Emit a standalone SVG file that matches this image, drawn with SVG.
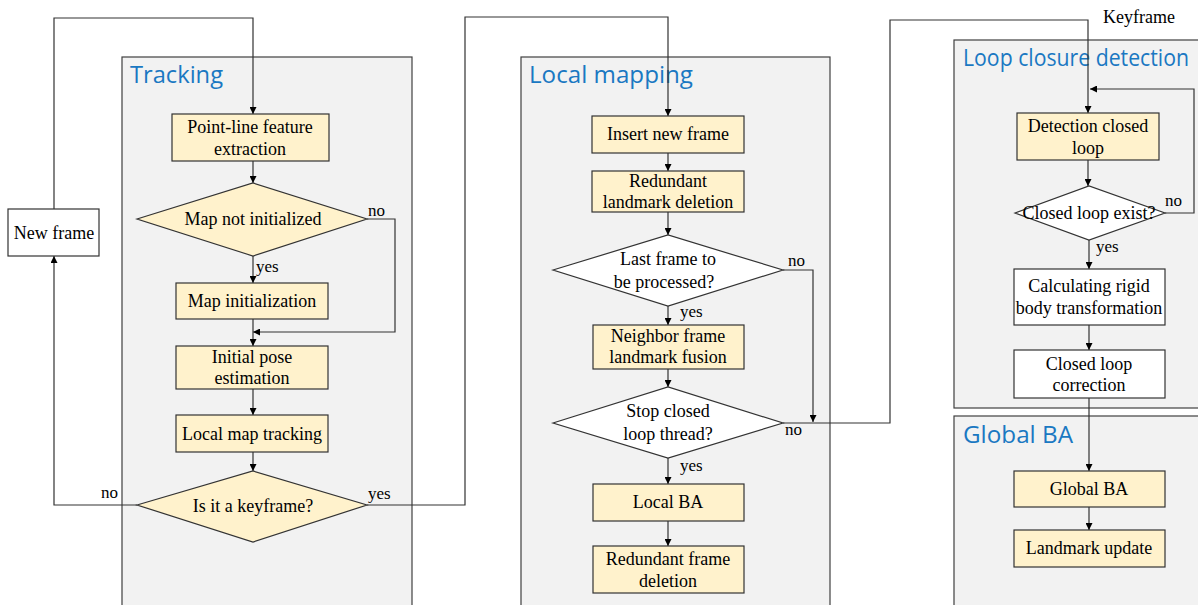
<svg xmlns="http://www.w3.org/2000/svg" width="1198" height="605" viewBox="0 0 1198 605">
<defs>
<marker id="ah" viewBox="0 0 10 10" refX="10" refY="5" markerWidth="7" markerHeight="7" markerUnits="userSpaceOnUse" orient="auto"><path d="M0,0 L10,5 L0,10 z" fill="#000"/></marker>
</defs>
<style>
.panel{fill:#f2f2f2;stroke:#404040;stroke-width:1.2}
.title{font-family:"Open Sans","Noto Sans",sans-serif;font-size:23px;fill:#1a78c2}
.box{fill:#fff2cc;stroke:#333;stroke-width:1.2}
.wbox{fill:#fff;stroke:#333;stroke-width:1.2}
.nt{font-family:"Liberation Serif","Times New Roman",serif;font-size:18px;fill:#000;text-anchor:middle}
.lb{font-family:"Liberation Serif","Times New Roman",serif;font-size:17px;fill:#000}
.c{fill:none;stroke:#333;stroke-width:1.2}
</style>
<rect width="1198" height="605" fill="#fff"/>
<g id="panels">
<rect class="panel" x="122" y="57" width="290" height="560"/>
<text class="title" x="130" y="83" textLength="93" lengthAdjust="spacingAndGlyphs">Tracking</text>
<rect class="panel" x="521" y="57" width="309" height="560"/>
<text class="title" x="529" y="83" textLength="164" lengthAdjust="spacingAndGlyphs">Local mapping</text>
<rect class="panel" x="954" y="40" width="260" height="368"/>
<text class="title" x="963" y="66" textLength="226" lengthAdjust="spacingAndGlyphs">Loop closure detection</text>
<rect class="panel" x="954" y="416" width="260" height="200"/>
<text class="title" x="963" y="443" textLength="110" lengthAdjust="spacingAndGlyphs">Global BA</text>
</g>
<g id="connectors">
<path class="c" d="M54,209 V18 H253 V114" marker-end="url(#ah)"/>
<path class="c" d="M253,161 V183" marker-end="url(#ah)"/>
<path class="c" d="M253,256 V283" marker-end="url(#ah)"/>
<path class="c" d="M367,219 H395 V332 H253" marker-end="url(#ah)"/>
<path class="c" d="M253,319 V346" marker-end="url(#ah)"/>
<path class="c" d="M253,389 V415" marker-end="url(#ah)"/>
<path class="c" d="M253,452 V471" marker-end="url(#ah)"/>
<path class="c" d="M137,505 H54 V256" marker-end="url(#ah)"/>
<path class="c" d="M367,505 H465 V17 H668 V116" marker-end="url(#ah)"/>
<path class="c" d="M668,153 V171" marker-end="url(#ah)"/>
<path class="c" d="M668,212 V235" marker-end="url(#ah)"/>
<path class="c" d="M668,306 V325" marker-end="url(#ah)"/>
<path class="c" d="M783,270 H813 V422" marker-end="url(#ah)"/>
<path class="c" d="M668,369 V387" marker-end="url(#ah)"/>
<path class="c" d="M668,458 V484" marker-end="url(#ah)"/>
<path class="c" d="M668,521 V546" marker-end="url(#ah)"/>
<path class="c" d="M783,423 H890 V20 H1088 V113" marker-end="url(#ah)"/>
<path class="c" d="M1088,160 V186" marker-end="url(#ah)"/>
<path class="c" d="M1165,213 H1194 V89 H1090" marker-end="url(#ah)"/>
<path class="c" d="M1089,240 V269" marker-end="url(#ah)"/>
<path class="c" d="M1089,325 V350" marker-end="url(#ah)"/>
<path class="c" d="M1089,398 V471" marker-end="url(#ah)"/>
<path class="c" d="M1089,507 V530" marker-end="url(#ah)"/>
</g>
<g id="labels">
<text class="lb" x="368" y="216">no</text>
<text class="lb" x="256" y="272">yes</text>
<text class="lb" x="101" y="498">no</text>
<text class="lb" x="368" y="499">yes</text>
<text class="lb" x="788" y="266">no</text>
<text class="lb" x="680" y="317">yes</text>
<text class="lb" x="785" y="435">no</text>
<text class="lb" x="680" y="471">yes</text>
<text class="lb" x="1165" y="206">no</text>
<text class="lb" x="1096" y="252">yes</text>
<text class="lb" x="1103" y="23" style="font-size:18px">Keyframe</text>
</g>
<g id="new-frame">
<rect class="wbox" x="8" y="209" width="91" height="47"/>
<text class="nt" x="54" y="239">New frame</text>
</g>
<g id="point-line">
<rect class="box" x="172" y="114" width="157" height="47"/>
<text class="nt" x="250" y="133">Point-line feature</text>
<text class="nt" x="250" y="155">extraction</text>
</g>
<g id="map-not-init">
<polygon class="box" points="137,219 253,183 367,219 253,256"/>
<text class="nt" x="253" y="225">Map not initialized</text>
</g>
<g id="map-init">
<rect class="box" x="176" y="283" width="152" height="36"/>
<text class="nt" x="252" y="307">Map initialization</text>
</g>
<g id="initial-pose">
<rect class="box" x="176" y="346" width="152" height="43"/>
<text class="nt" x="252" y="363">Initial pose</text>
<text class="nt" x="252" y="384">estimation</text>
</g>
<g id="local-map-tracking">
<rect class="box" x="176" y="415" width="152" height="37"/>
<text class="nt" x="252" y="440">Local map tracking</text>
</g>
<g id="is-keyframe">
<polygon class="box" points="137,505 253,471 367,505 253,542"/>
<text class="nt" x="253" y="512">Is it a keyframe?</text>
</g>
<g id="insert-new-frame">
<rect class="box" x="592" y="116" width="152" height="37"/>
<text class="nt" x="668" y="140">Insert new frame</text>
</g>
<g id="redundant-landmark">
<rect class="box" x="592" y="171" width="152" height="41"/>
<text class="nt" x="668" y="187">Redundant</text>
<text class="nt" x="668" y="208">landmark deletion</text>
</g>
<g id="last-frame">
<polygon class="wbox" points="553,270 668,235 783,270 668,306"/>
<text class="nt" x="668" y="265">Last frame to</text>
<text class="nt" x="664" y="288">be processed?</text>
</g>
<g id="neighbor-fusion">
<rect class="box" x="593" y="325" width="151" height="44"/>
<text class="nt" x="668" y="342">Neighbor frame</text>
<text class="nt" x="668" y="363">landmark fusion</text>
</g>
<g id="stop-closed-loop">
<polygon class="wbox" points="553,423 668,387 783,423 668,458"/>
<text class="nt" x="668" y="417">Stop closed</text>
<text class="nt" x="668" y="440">loop thread?</text>
</g>
<g id="local-ba">
<rect class="box" x="593" y="484" width="151" height="37"/>
<text class="nt" x="668" y="508">Local BA</text>
</g>
<g id="redundant-frame">
<rect class="box" x="593" y="546" width="151" height="47"/>
<text class="nt" x="668" y="565">Redundant frame</text>
<text class="nt" x="668" y="587">deletion</text>
</g>
<g id="detection-closed-loop">
<rect class="box" x="1017" y="113" width="142" height="47"/>
<text class="nt" x="1088" y="132">Detection closed</text>
<text class="nt" x="1088" y="154">loop</text>
</g>
<g id="closed-loop-exist">
<polygon class="wbox" points="1015,213 1089,186 1165,213 1089,240"/>
<text class="nt" x="1089" y="219">Closed loop exist?</text>
</g>
<g id="rigid-body">
<rect class="wbox" x="1014" y="269" width="151" height="56"/>
<text class="nt" x="1089" y="292">Calculating rigid</text>
<text class="nt" x="1089" y="314">body transformation</text>
</g>
<g id="closed-loop-correction">
<rect class="wbox" x="1014" y="350" width="151" height="48"/>
<text class="nt" x="1089" y="370">Closed loop</text>
<text class="nt" x="1089" y="391">correction</text>
</g>
<g id="global-ba">
<rect class="box" x="1014" y="471" width="151" height="36"/>
<text class="nt" x="1089" y="495">Global BA</text>
</g>
<g id="landmark-update">
<rect class="box" x="1014" y="530" width="151" height="37"/>
<text class="nt" x="1089" y="554">Landmark update</text>
</g>
</svg>
